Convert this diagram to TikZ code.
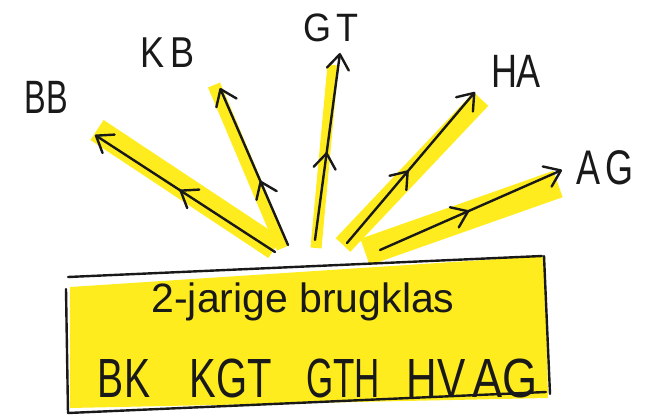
\documentclass[tikz,border=0pt]{standalone}
\usepackage{fontspec}
\setmainfont{Liberation Sans}
\usetikzlibrary{arrows.meta,decorations.markings}
\definecolor{hl}{RGB}{255,236,30}
\definecolor{inkc}{RGB}{25,25,25}
\begin{document}
\begin{tikzpicture}[x=1pt,y=-1pt,
  ink/.style={line width=2.4pt, inkc, line cap=round, line join=round},
  band/.style={line width=#1, hl},
  arr/.style={ink, -{Straight Barb[length=15pt,width=22pt,round]},
    postaction={decorate},
    decoration={markings, mark=at position #1 with {\arrow{Straight Barb[length=15pt,width=22pt,round]}}}},
  lbl/.style={font=\fontsize{36}{42}\selectfont, inner sep=0pt, text=inkc},
  big/.style={inner sep=0pt, text=inkc, anchor=base},
  word/.style={big, font=\fontsize{46}{52}\selectfont},
]
\useasboundingbox (0,0) rectangle (661,417);

% highlighter
\fill[hl] (70,287) -- (545,256) -- (548,398) -- (70,408) -- cycle;
\draw[band=24pt] (97,130) -- (275,248);
\draw[band=13pt] (214,85) -- (283,248);
\draw[band=11pt] (333,65) -- (316,248);
\draw[band=20pt] (481,99) -- (343,245);
\draw[band=28pt] (558,184) -- (365,252);

% box
\draw[ink] (68,277) -- (542,256);
\draw[ink] (544,256) -- (550,394);
\draw[ink] (68,413) -- (546,392);
\draw[ink] (66,289) -- (68,413);

% texts
\node[big, font=\fontsize{41}{48}\selectfont] (t1) at (303,312) {2-jarige brugklas};
\node[word] (w1) at (124,397) {\scalebox{0.85}[1.2]{BK}};
\node[word] (w2) at (231,397) {\scalebox{0.87}[1.2]{KGT}};
\node[word] (w3) at (343,397) {\scalebox{0.76}[1.2]{GTH}};
\node[word] (w4) at (436,397) {\scalebox{0.92}[1.2]{HV}};
\node[word] (w5) at (505,397) {\scalebox{0.98}[1.2]{AG}};

% labels
\node[lbl] (BB) at (46,97) {\scalebox{0.9}[1.3]{BB}};
\node[lbl] (KB) at (168,53) {\scalebox{1}[1.2]{K\,B}};
\node[lbl] (GT) at (331,28) {\scalebox{1}[1.1]{G\,T}};
\node[lbl] (HA) at (516,71) {\scalebox{1}[1.3]{HA}};
\node[lbl] (AG) at (605,168) {\scalebox{1}[1.35]{A\,G}};

% arrows
\coordinate (sBB) at (275,252); \coordinate (eBB) at (95,135);
\coordinate (sKB) at (288,245); \coordinate (eKB) at (220,88);
\coordinate (sGT) at (315,240); \coordinate (eGT) at (340,53);
\coordinate (sHA) at (347,243); \coordinate (eHA) at (475,92);
\coordinate (sAG) at (380,250); \coordinate (eAG) at (562,170);
\draw[arr=0.53] (sBB) -- (eBB);
\draw[arr=0.41] (sKB) -- (eKB);
\draw[arr=0.47] (sGT) -- (eGT);
\draw[arr=0.48] (sHA) -- (eHA);
\draw[arr=0.49] (sAG) -- (eAG);
\end{tikzpicture}
\end{document}
